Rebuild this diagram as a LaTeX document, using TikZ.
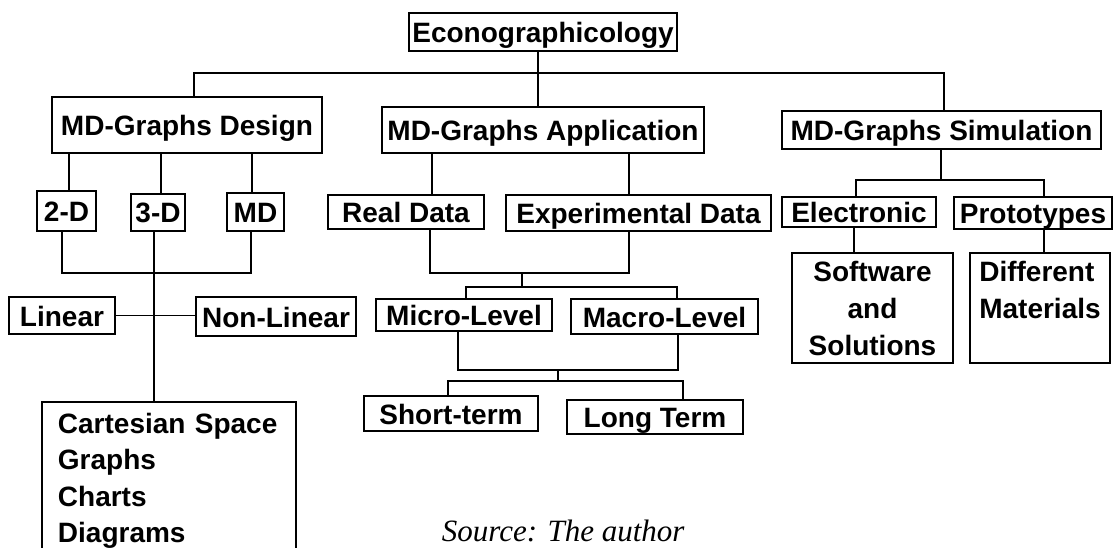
\documentclass[tikz,border=0pt]{standalone}
\usepackage{fontspec}
\setmainfont{Liberation Sans}
\newfontfamily\captionserif{Liberation Serif}
\begin{document}
\begin{tikzpicture}[x=1pt, y=-1pt, line width=1.9pt,
  frame/.style={draw, inner sep=0pt, font=\fontsize{28}{37}\selectfont\bfseries},
  box/.style={frame, text height=25pt, text depth=4pt},
  link/.style={line width=1.9pt}]
\clip (0,0) rectangle (1117,548);
\fill[white] (0,0) rectangle (1117,548);

% root and first level
\node[box, minimum width=268pt, minimum height=38pt] (econ) at (543,32) {Econographicology};
\node[box, minimum width=270pt, minimum height=56pt] (design) at (187,125) {MD-Graphs Design};
\node[box, minimum width=322pt, minimum height=46pt] (app) at (543,130) {MD-Graphs Application};
\node[box, minimum width=319pt, minimum height=38pt] (sim) at (941.5,130) {MD-Graphs Simulation};

% design branch
\node[box, minimum width=59pt, minimum height=40pt] (d2) at (66.5,211) {2-D};
\node[box, minimum width=54pt, minimum height=37pt] (d3) at (158,212.5) {3-D};
\node[box, minimum width=57pt, minimum height=38pt] (dmd) at (255.5,212) {MD};
\node[box, minimum width=106pt, minimum height=37pt] (lin) at (62,315.5) {Linear};
\node[box, minimum width=160pt, minimum height=39pt] (nonlin) at (276,316.5) {Non-Linear};
\node[frame, anchor=north west, align=left, text width=222pt, inner xsep=16pt, inner ysep=11pt,
      font=\fontsize{28}{36.5}\selectfont\bfseries] (cart) at (41,401)
  {Cartesian Space\\Graphs\\Charts\\Diagrams};

% application branch
\node[box, minimum width=156pt, minimum height=34pt] (real) at (406,212) {Real Data};
\node[box, minimum width=265pt, minimum height=36pt] (exp) at (638.5,213) {Experimental Data};
\node[box, minimum width=176pt, minimum height=32pt] (micro) at (464,315) {Micro-Level};
\node[box, minimum width=187pt, minimum height=35pt] (macro) at (664.5,316.5) {Macro-Level};
\node[box, minimum width=174pt, minimum height=35pt] (short) at (451,413.5) {Short-term};
\node[box, minimum width=176pt, minimum height=34pt] (long) at (655,417) {Long Term};

% simulation branch
\node[box, minimum width=154pt, minimum height=30pt] (elec) at (859,212) {Electronic};
\node[box, minimum width=158pt, minimum height=32pt] (proto) at (1033,213) {Prototypes};
\node[frame, align=center, minimum width=161pt, minimum height=110pt] (soft) at (872.5,308)
  {Software\\and\\Solutions};
\node[frame, align=left, minimum width=140pt, minimum height=110pt] (diff) at (1040,308)
  {Different\\Materials\\\mbox{}};

% junction points of the connector trees
\coordinate (busL) at (194,73);
\coordinate (busM) at (538,73);
\coordinate (busR) at (944,73);
\coordinate (dL) at (69,0);
\coordinate (dM) at (161,0);
\coordinate (dR) at (252,0);
\coordinate (jA) at (62,273);
\coordinate (jB) at (154,273);
\coordinate (jC) at (251,273);
\coordinate (aL) at (432,0);
\coordinate (aR) at (629,0);
\coordinate (rA) at (430,273);
\coordinate (rB) at (522,273);
\coordinate (rC) at (629,273);
\coordinate (mA) at (466,287);
\coordinate (mB) at (522,287);
\coordinate (mC) at (677,287);
\coordinate (lA) at (458,370);
\coordinate (lB) at (558,370);
\coordinate (lC) at (678,370);
\coordinate (tA) at (448,381);
\coordinate (tB) at (558,381);
\coordinate (tC) at (683,381);
\coordinate (sA) at (856,180);
\coordinate (sB) at (941,180);
\coordinate (sC) at (1044,180);
\coordinate (eX) at (854,0);

% root to first level
\draw[link] (econ.south -| busM) -- (app.north -| busM);
\draw[link] (design.north -| busL) -- (busL) -- (busR) -- (sim.north -| busR);

% design branch
\draw[link] (design.south -| dL) -- (d2.north -| dL);
\draw[link] (design.south -| dM) -- (d3.north -| dM);
\draw[link] (design.south -| dR) -- (dmd.north -| dR);
\draw[link] (d2.south -| jA) -- (jA) -- (jC) -- (dmd.south -| jC);
\draw[link] (d3.south -| jB) -- (cart.north -| jB);
\draw[link] (lin.east) -- (nonlin.west |- lin.east);

% application branch
\draw[link] (app.south -| aL) -- (real.north -| aL);
\draw[link] (app.south -| aR) -- (exp.north -| aR);
\draw[link] (real.south -| rA) -- (rA) -- (rC) -- (exp.south -| rC);
\draw[link] (rB) -- (mB);
\draw[link] (micro.north -| mA) -- (mA) -- (mC) -- (macro.north -| mC);
\draw[link] (micro.south -| lA) -- (lA) -- (lC) -- (macro.south -| lC);
\draw[link] (lB) -- (tB);
\draw[link] (short.north -| tA) -- (tA) -- (tC) -- (long.north -| tC);

% simulation branch
\draw[link] (sim.south -| sB) -- (sB);
\draw[link] (elec.north -| sA) -- (sA) -- (sC) -- (proto.north -| sC);
\draw[link] (elec.south -| eX) -- (soft.north -| eX);
\draw[link] (proto.south -| sC) -- (diff.north -| sC);

% caption
\node[font=\captionserif\itshape\fontsize{31}{36}\selectfont, anchor=base west, inner sep=0pt]
  (src) at (441,541) {Source: The author};
\end{tikzpicture}
\end{document}
